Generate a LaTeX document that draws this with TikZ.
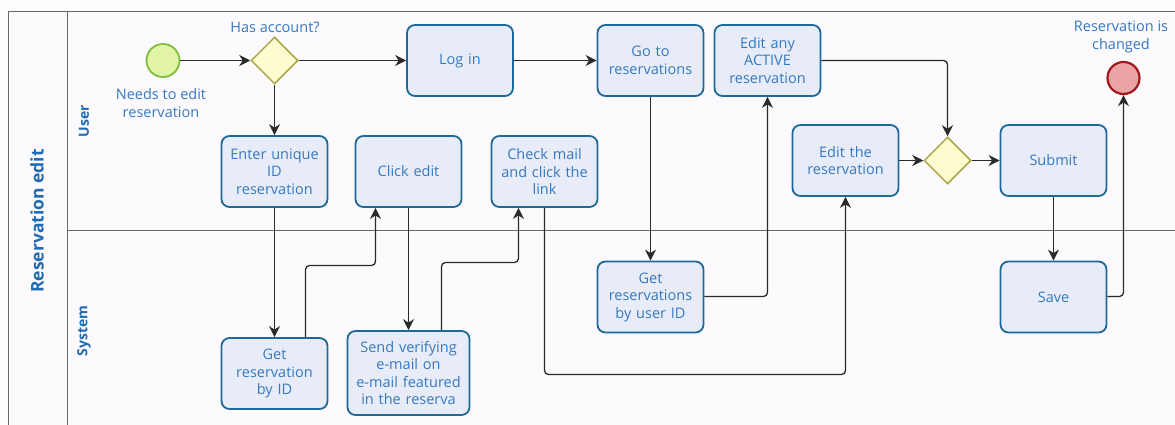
\documentclass[tikz,border=0pt]{standalone}
\usepackage{fontspec}
\setmainfont{Open Sans}
\usetikzlibrary{arrows.meta,shapes.geometric}

\definecolor{pagebg}{HTML}{FEFDFE}
\definecolor{poolbg}{HTML}{FDFAFD}
\definecolor{poolline}{HTML}{6A6A6A}
\definecolor{taskdraw}{HTML}{1D6A9A}
\definecolor{taskfill}{HTML}{E8ECF8}
\definecolor{labeltext}{HTML}{3479C0}
\definecolor{titletext}{HTML}{1F6BB3}
\definecolor{startfill}{HTML}{E2F5A6}
\definecolor{startdraw}{HTML}{7CBF3A}
\definecolor{gatefill}{HTML}{FEFBD0}
\definecolor{gatedraw}{HTML}{A8A848}
\definecolor{endfill}{HTML}{EBA3A3}
\definecolor{enddraw}{HTML}{A0181E}
\definecolor{flowline}{HTML}{2A2A2A}

\tikzset{
  txt/.style={font=\fontsize{14.5}{17.5}\selectfont, text=labeltext, align=center},
  task/.style={txt, draw=taskdraw, fill=taskfill, line width=1.8pt,
    rounded corners=8pt, minimum width=106pt, minimum height=71pt,
    inner sep=2pt, text width=102pt},
  gateway/.style={diamond, draw=gatedraw, fill=gatefill, line width=1.5pt,
    minimum width=47pt, minimum height=47pt, inner sep=0pt, aspect=1},
  startev/.style={circle, draw=startdraw, fill=startfill, line width=1.8pt,
    minimum size=33pt, inner sep=0pt},
  endev/.style={circle, draw=enddraw, fill=endfill, line width=2.2pt,
    minimum size=32pt, inner sep=0pt},
  lanename/.style={font=\bfseries\fontsize{14}{16}\selectfont, text=titletext, rotate=90},
  flow/.style={draw=flowline, line width=1.3pt, rounded corners=4pt,
    -{Stealth[length=11pt,width=11pt,inset=3.5pt]}},
}

\begin{document}
\begin{tikzpicture}[x=1pt,y=-1pt]
  \useasboundingbox (0,0) rectangle (1175,425);
  \fill[pagebg] (0,0) rectangle (1175,425);
  \fill[poolbg] (8,11) rectangle (1175,425);

  % pool and lanes
  \draw[poolline, line width=1pt] (8.5,425) -- (8.5,11.5) -- (1175,11.5);
  \draw[poolline, line width=1pt] (67.5,11.5) -- (67.5,425);
  \draw[poolline, line width=1pt] (67.5,230.5) -- (1175,230.5);
  \node[lanename, font=\bfseries\fontsize{17.5}{20}\selectfont] (pool) at (37,221) {Reservation edit};
  \node[lanename] (laneuser) at (84,121) {User};
  \node[lanename] (lanesys) at (84,331) {System};

  % events and gateways
  \node[startev] (start) at (163,60.5) {};
  \node[txt] (startlbl) at (161,103) {Needs to edit\\reservation};
  \node[gateway] (gw1) at (274.5,60.5) {};
  \node[txt] (gw1lbl) at (275,27) {Has account?};
  \node[gateway] (gw2) at (947.5,160.5) {};
  \node[endev] (end) at (1123.5,78) {};
  \node[txt] (endlbl) at (1121,37) {Reservation is\\changed};

  % tasks, user lane
  \node[task] (login) at (460,60.5) {Log in};
  \node[task] (goto) at (650.5,60.5) {Go to\\reservations};
  \node[task] (editany) at (767.5,60.5) {Edit any\\ACTIVE\\reservation};
  \node[task] (enterid) at (274.5,171.5) {Enter unique\\ID\\reservation};
  \node[task] (click) at (408.5,171.5) {Click edit};
  \node[task] (check) at (544.5,171.5) {Check mail\\and click the\\link};
  \node[task] (editres) at (845.5,160.5) {Edit the\\reservation};
  \node[task] (submit) at (1053.5,160.5) {Submit};

  % tasks, system lane
  \node[task] (getbyuser) at (650.5,297) {Get\\reservations\\by user ID};
  \node[task] (save) at (1053.5,297) {Save};
  \node[task] (getbyid) at (274.5,373.5) {Get\\reservation\\by ID};
  \node[task, minimum width=120pt, minimum height=84pt, text width=118pt] (send) at (408.5,373) {Send verifying\\e-mail on\\e-mail featured\\in the reserva};

  % bend points
  \coordinate (j1) at (0,265.5);
  \coordinate (j2) at (0,262.5);
  \coordinate (j3) at (0,374.5);

  % sequence flows
  \draw[flow] (start) -- (gw1);
  \draw[flow] (gw1) -- (login);
  \draw[flow] (gw1) -- (enterid);
  \draw[flow] (login) -- (goto);
  \draw[flow] (goto) -- (getbyuser);
  \draw[flow] ([yshift=0.5pt]getbyuser.east) -| (editany.south);
  \draw[flow] (editany.east) -| (gw2.north);
  \draw[flow] (enterid) -- (getbyid);
  \draw[flow] ([xshift=31pt]getbyid.north) |- ([xshift=-33pt]click.south |- j1) -- ([xshift=-33pt]click.south);
  \draw[flow] (click) -- (send);
  \draw[flow] ([xshift=33pt]send.north) |- ([xshift=-26pt]check.south |- j2) -- ([xshift=-26pt]check.south);
  \draw[flow] (check.south) |- (editres.south |- j3) -- (editres.south);
  \draw[flow] (editres) -- (gw2);
  \draw[flow] (gw2) -- (submit);
  \draw[flow] (submit) -- (save);
  \draw[flow] ([yshift=0.5pt]save.east) -| (end.south);
\end{tikzpicture}
\end{document}
